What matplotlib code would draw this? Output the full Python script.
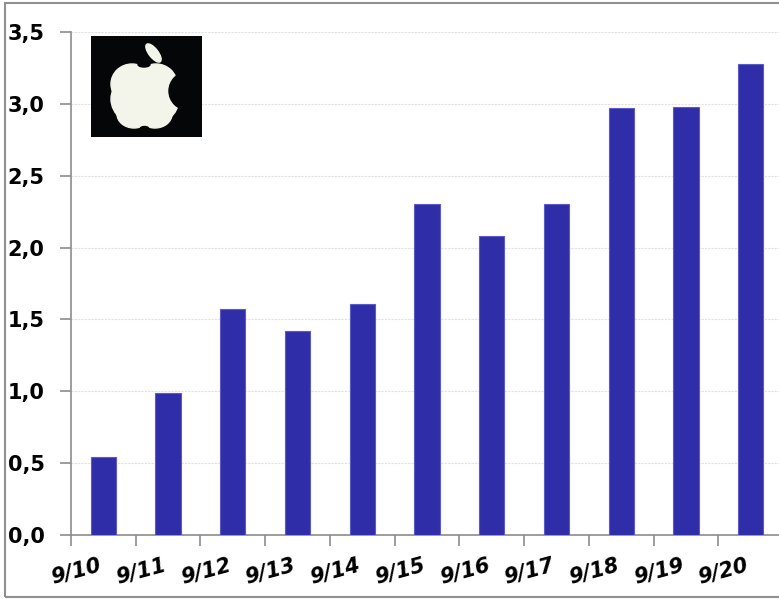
import numpy as np
from matplotlib import pyplot as plt
from matplotlib.patches import Ellipse, Circle, Rectangle

days = ["9/10", "9/11", "9/12", "9/13", "9/14", "9/15", "9/16", "9/17", "9/18", "9/19", "9/20"]
values = [0.54, 0.99, 1.57, 1.42, 1.61, 2.30, 2.08, 2.30, 2.97, 2.98, 3.28]
y_ticks = [0.0, 0.5, 1.0, 1.5, 2.0, 2.5, 3.0, 3.5]

x = np.arange(len(days))
grey = "#8C8C8C"

fig = plt.figure(figsize=(7.79, 5.99), dpi=100)

# outer frame (right side runs off the picture)
fig.patches.append(Rectangle((5 / 779, 2 / 599), 1.0, 594 / 599, transform=fig.transFigure,
                             fill=False, edgecolor="#909090", linewidth=1.5))

ax = fig.add_axes([71 / 779, 64 / 599, 712 / 779, 503 / 599])
ax.bar(x, values, width=0.39, color="#302DA8", edgecolor="#5C5AC4", linewidth=0.8, zorder=3)

ax.set_xlim(-0.5, len(days) - 0.5)
ax.set_ylim(0, 3.5)
ax.set_yticks(y_ticks)
ax.set_yticklabels([f"{v:.1f}".replace(".", ",") for v in y_ticks],
                   fontfamily="DejaVu Sans", fontweight="bold", fontsize=15)

# ticks sit between the categories, labels end under the bar centres
ax.set_xticks(np.arange(-0.5, len(days), 1.0))
ax.set_xticklabels([])
ax.set_xticks(x, minor=True)
ax.set_xticklabels(days, minor=True, rotation=15, ha="right", fontfamily="DejaVu Sans",
                   fontweight="bold", fontstyle="italic", fontsize=15)
ax.tick_params(axis="x", which="minor", length=0, pad=14)
ax.tick_params(axis="both", which="major", color=grey, length=8, width=1.2, direction="out")
ax.tick_params(axis="y", pad=11)

ax.grid(axis="y", color="#E2E2E2", linestyle=(0, (2, 1)), linewidth=0.8, zorder=0)
for s in ["top", "right"]:
    ax.spines[s].set_visible(False)
for s in ["left", "bottom"]:
    ax.spines[s].set_color(grey)
    ax.spines[s].set_linewidth(1.2)

# apple logo in the corner
logo = fig.add_axes([91 / 779, 462 / 599, 111 / 779, 101 / 599])
logo.set_facecolor("#050608")
logo.set_xlim(0, 111)
logo.set_ylim(101, 0)
logo.set_xticks([])
logo.set_yticks([])
for s in logo.spines.values():
    s.set_visible(False)
white = "#F3F5EA"
for c, w, h in [((41, 48), 42, 40), ((65, 48), 42, 40), ((54, 63), 68, 56),
                ((43, 78), 34, 28), ((64, 78), 34, 28)]:
    logo.add_patch(Ellipse(c, w, h, color=white))
logo.add_patch(Ellipse((53, 28.5), 12, 5, color="#050608"))
logo.add_patch(Ellipse((53.5, 93), 9, 5, color="#050608"))
logo.add_patch(Circle((97, 55), 19, color="#050608"))
logo.add_patch(Ellipse((62.5, 17), 9, 22, angle=-38, color=white))

fig.savefig("out.png", dpi=100)
